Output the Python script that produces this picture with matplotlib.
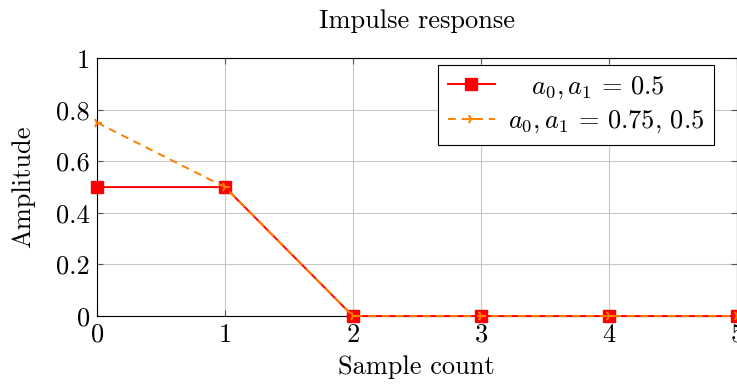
import numpy as np
import matplotlib
matplotlib.use('Agg')
import matplotlib.pyplot as plt

plt.rcParams['font.family'] = 'serif'
plt.rcParams['font.serif'] = ['cmr10', 'DejaVu Serif']
plt.rcParams['mathtext.fontset'] = 'cm'
plt.rcParams['axes.formatter.use_mathtext'] = True

samples = [0, 1, 2, 3, 4, 5]
resp_a = [0.5, 0.5, 0, 0, 0, 0]
resp_b = [0.75, 0.5, 0, 0, 0, 0]
label_a = r'$\quad a_0, a_1\, =\, 0.5$'
label_b = r'$a_0, a_1\, =\, 0.75,\, 0.5$'

fig = plt.figure(figsize=(7.37, 3.85), dpi=100)
ax = fig.add_axes([0.1316, 0.179, 0.868, 0.670])

ax.plot(samples, resp_a, color='red', lw=1.4, marker='s', ms=8,
        label=label_a, clip_on=False, zorder=3)
ax.plot(samples, resp_b, color='#ff8000', lw=1.4, ls=(0, (4, 3)), marker='4',
        ms=7, mew=1.5, label=label_b, clip_on=False, zorder=4)

ax.set_xlim(0, 5)
ax.set_ylim(0, 1)
ax.set_xticks(samples)
ax.set_yticks([0, 0.2, 0.4, 0.6, 0.8, 1])
ax.set_yticklabels(['0', '0.2', '0.4', '0.6', '0.8', '1'])
ax.grid(True, color='#c8c8c8', lw=0.8)
ax.set_axisbelow(True)
ax.tick_params(direction='in', length=4, labelsize=19, top=True, right=True,
               color='#555555', pad=5)
for s in ax.spines.values():
    s.set_linewidth(0.8)

ax.set_title('Impulse response', fontsize=19, pad=22)
ax.set_xlabel('Sample count', fontsize=19, labelpad=6)
ax.set_ylabel('Amplitude', fontsize=19, labelpad=15)

leg = ax.legend(loc='upper right', fontsize=19, fancybox=False,
                edgecolor='black', framealpha=1, handlelength=1.8,
                borderaxespad=0, borderpad=0.35, labelspacing=0.3,
                handletextpad=0.5, bbox_to_anchor=(0.964, 0.973))
leg.get_frame().set_linewidth(0.8)

fig.savefig('out.png', dpi=100)
